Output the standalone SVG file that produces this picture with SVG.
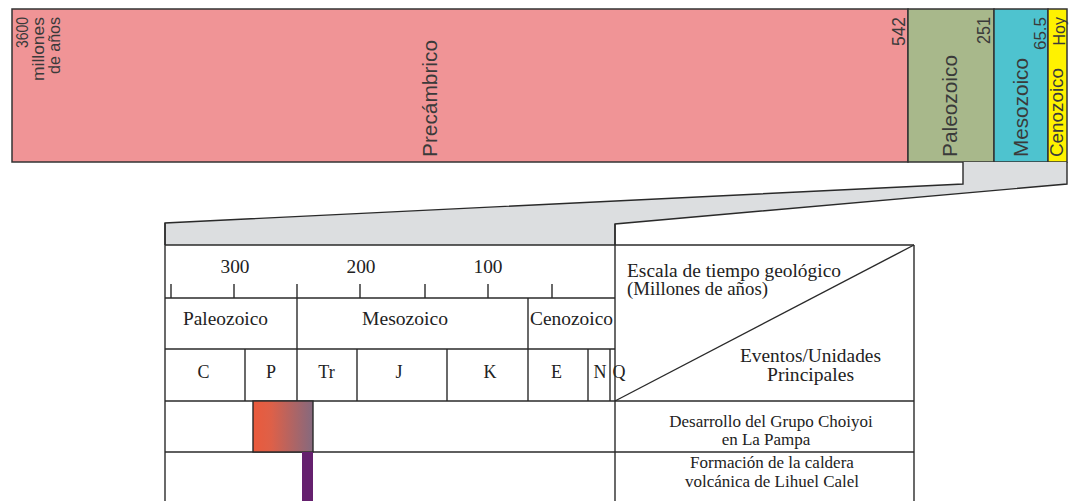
<svg xmlns="http://www.w3.org/2000/svg" width="1072" height="501" viewBox="0 0 1072 501">
<style>
.bar{stroke:#333;stroke-width:1.5}
.ln{stroke:#2a2a2a;stroke-width:1.4;fill:none}
.ts{font-family:"Liberation Sans",Arial,sans-serif;fill:#3a3a3a}
.tr{font-family:"Liberation Serif","Times New Roman",serif;fill:#222}
.m{text-anchor:middle}
.e{text-anchor:end}
</style>
<defs>
<linearGradient id="grad1" x1="0" y1="0" x2="1" y2="0">
<stop offset="0" stop-color="#ea5a3c"/>
<stop offset="0.3" stop-color="#de6048"/>
<stop offset="1" stop-color="#85697e"/>
</linearGradient>
</defs>
<rect width="1072" height="501" fill="#fff"/>

<g id="top-scale">
<g id="precambrico"><rect class="bar" x="12" y="9" width="896" height="153" fill="#f09496"/>
<text class="ts" font-size="20" transform="translate(437,157) rotate(-90)" textLength="117" lengthAdjust="spacingAndGlyphs">Precámbrico</text></g>
<g id="paleozoico"><rect class="bar" x="908" y="9" width="86" height="153" fill="#a8b88b"/>
<text class="ts" font-size="20" transform="translate(957,157) rotate(-90)" textLength="102" lengthAdjust="spacingAndGlyphs">Paleozoico</text></g>
<g id="mesozoico"><rect class="bar" x="994" y="9" width="54" height="153" fill="#4ec3cf"/>
<text class="ts" font-size="20" transform="translate(1028,157) rotate(-90)" textLength="99" lengthAdjust="spacingAndGlyphs">Mesozoico</text></g>
<g id="cenozoico"><rect class="bar" x="1048" y="9" width="19" height="153" fill="#fff200"/>
<text class="ts" font-size="19" transform="translate(1063,157) rotate(-90)" textLength="89" lengthAdjust="spacingAndGlyphs">Cenozoico</text></g>
<g id="edades">
<text class="ts e" font-size="17" transform="translate(28,17) rotate(-90)" textLength="31" lengthAdjust="spacingAndGlyphs">3600</text>
<text class="ts e" font-size="17" transform="translate(44,17) rotate(-90)" textLength="64" lengthAdjust="spacingAndGlyphs">millones</text>
<text class="ts e" font-size="17" transform="translate(60,17) rotate(-90)" textLength="57" lengthAdjust="spacingAndGlyphs">de años</text>
<text class="ts e" font-size="18" transform="translate(905,17) rotate(-90)" textLength="29" lengthAdjust="spacingAndGlyphs">542</text>
<text class="ts e" font-size="18" transform="translate(990,17) rotate(-90)" textLength="27" lengthAdjust="spacingAndGlyphs">251</text>
<text class="ts e" font-size="17" transform="translate(1046,17) rotate(-90)" textLength="33" lengthAdjust="spacingAndGlyphs">65.5</text>
<text class="ts e" font-size="16" transform="translate(1065,17) rotate(-90)">Hoy</text>
</g>
</g>

<g id="connectors">
<polygon points="963,162 1067,162 1067,184 615,224 615,245 165,245 165,223 963,184" fill="#dcdee0"/>
<polyline class="ln" points="963,162 963,184 165,223 165,245"/>
<polyline class="ln" points="1067,162 1067,184 615,224 615,245"/>
</g>

<g id="tabla">
<g id="escala-numerica">
<line class="ln" x1="165" y1="245" x2="914" y2="245"/>
<line class="ln" x1="165" y1="298" x2="615" y2="298"/>
<g class="ln">
<line x1="171" y1="284" x2="171" y2="298"/>
<line x1="234" y1="284" x2="234" y2="298"/>
<line x1="360" y1="284" x2="360" y2="298"/>
<line x1="425" y1="284" x2="425" y2="298"/>
<line x1="488" y1="284" x2="488" y2="298"/>
<line x1="552" y1="284" x2="552" y2="298"/>
</g>
<text class="tr m" font-size="19" x="235" y="273" textLength="29" lengthAdjust="spacingAndGlyphs">300</text>
<text class="tr m" font-size="19" x="361" y="273" textLength="29" lengthAdjust="spacingAndGlyphs">200</text>
<text class="tr m" font-size="19" x="488" y="273" textLength="29" lengthAdjust="spacingAndGlyphs">100</text>
</g>
<g id="eras">
<line class="ln" x1="165" y1="349" x2="615" y2="349"/>
<line class="ln" x1="297" y1="284" x2="297" y2="401"/>
<line class="ln" x1="528" y1="298" x2="528" y2="401"/>
<text class="tr m" font-size="18" x="225.5" y="325" textLength="85" lengthAdjust="spacingAndGlyphs">Paleozoico</text>
<text class="tr m" font-size="18" x="405" y="325" textLength="86" lengthAdjust="spacingAndGlyphs">Mesozoico</text>
<text class="tr m" font-size="18" x="571.5" y="325" textLength="83" lengthAdjust="spacingAndGlyphs">Cenozoico</text>
</g>
<g id="periodos">
<g class="ln">
<line x1="245" y1="349" x2="245" y2="401"/>
<line x1="357" y1="349" x2="357" y2="401"/>
<line x1="447" y1="349" x2="447" y2="401"/>
<line x1="588" y1="349" x2="588" y2="401"/>
<line x1="610" y1="349" x2="610" y2="401"/>
</g>
<text class="tr m" font-size="18" x="203.5" y="378">C</text>
<text class="tr m" font-size="18" x="271" y="378">P</text>
<text class="tr m" font-size="18" x="326.5" y="378">Tr</text>
<text class="tr m" font-size="18" x="399" y="378">J</text>
<text class="tr m" font-size="18" x="490" y="378">K</text>
<text class="tr m" font-size="18" x="556.5" y="378">E</text>
<text class="tr m" font-size="18" x="600" y="378">N</text>
<text class="tr m" font-size="18" x="619" y="378">Q</text>
</g>
<g id="encabezado">
<line class="ln" x1="615" y1="401" x2="914" y2="245"/>
<text class="tr" font-size="18" x="627" y="277" textLength="214" lengthAdjust="spacingAndGlyphs">Escala de tiempo geológico</text>
<text class="tr" font-size="18" x="627" y="295" textLength="141" lengthAdjust="spacingAndGlyphs">(Millones de años)</text>
<text class="tr m" font-size="18" x="810.5" y="362" textLength="141" lengthAdjust="spacingAndGlyphs">Eventos/Unidades</text>
<text class="tr m" font-size="18" x="810.5" y="381" textLength="87" lengthAdjust="spacingAndGlyphs">Principales</text>
</g>
<g id="bordes">
<line class="ln" x1="165" y1="223" x2="165" y2="501"/>
<line class="ln" x1="615" y1="224" x2="615" y2="501"/>
<line class="ln" x1="914" y1="245" x2="914" y2="501"/>
<line class="ln" x1="165" y1="401" x2="914" y2="401"/>
<line class="ln" x1="165" y1="452" x2="914" y2="452"/>
</g>
<g id="evento-choiyoi">
<rect x="253" y="401" width="60" height="51" fill="url(#grad1)" stroke="#2a2a2a" stroke-width="1.4"/>
<text class="tr m" font-size="17" x="771" y="427">Desarrollo del Grupo Choiyoi</text>
<text class="tr m" font-size="17" x="766" y="445">en La Pampa</text>
</g>
<g id="evento-lihuel-calel">
<rect x="302" y="452" width="11" height="49" fill="#65206e"/>
<text class="tr m" font-size="17" x="772" y="468">Formación de la caldera</text>
<text class="tr m" font-size="17" x="772" y="487">volcánica de Lihuel Calel</text>
</g>
</g>
</svg>
